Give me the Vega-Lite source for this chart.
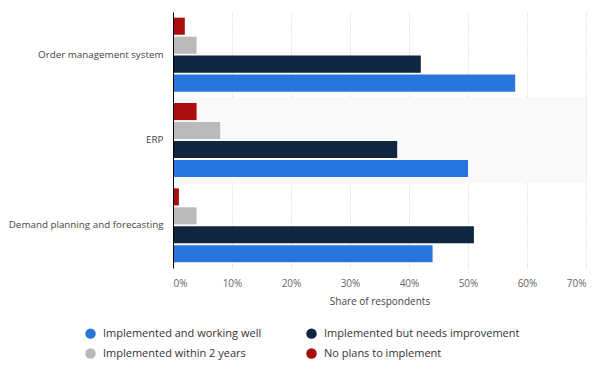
{
  "$schema": "https://vega.github.io/schema/vega-lite/v6.json",
  "width": 413,
  "height": 256,
  "autosize": {"type": "none"},
  "padding": {"left": 173, "top": 12, "right": 14, "bottom": 109},
  "background": "white",
  "config": {"view": {"stroke": null}, "font": "Open Sans"},
  "datasets": {
    "bands": [{"category": "ERP"}],
    "survey": [
      {"category": "Order management system", "status": "Implemented and working well", "share": 58},
      {"category": "Order management system", "status": "Implemented but needs improvement", "share": 42},
      {"category": "Order management system", "status": "Implemented within 2 years", "share": 4},
      {"category": "Order management system", "status": "No plans to implement", "share": 2},
      {"category": "ERP", "status": "Implemented and working well", "share": 50},
      {"category": "ERP", "status": "Implemented but needs improvement", "share": 38},
      {"category": "ERP", "status": "Implemented within 2 years", "share": 8},
      {"category": "ERP", "status": "No plans to implement", "share": 4},
      {"category": "Demand planning and forecasting", "status": "Implemented and working well", "share": 44},
      {"category": "Demand planning and forecasting", "status": "Implemented but needs improvement", "share": 51},
      {"category": "Demand planning and forecasting", "status": "Implemented within 2 years", "share": 4},
      {"category": "Demand planning and forecasting", "status": "No plans to implement", "share": 1}
    ]
  },
  "layer": [
    {
      "data": {"name": "bands"},
      "mark": {"type": "rect", "color": "#f9f9f9"},
      "encoding": {
        "y": {"field": "category", "type": "nominal", "scale": {"domain": ["Order management system", "ERP", "Demand planning and forecasting"], "paddingInner": 0, "paddingOuter": 0},
          "axis": {"title": null, "ticks": false, "domain": true, "domainColor": "#000000", "domainWidth": 1, "labelFontSize": 9.8, "labelColor": "#444444", "labelPadding": 10, "labelLimit": 200, "zindex": 1}}
      }
    },
    {
      "data": {"name": "survey"},
      "mark": {"type": "bar"},
      "encoding": {
        "y": {
          "field": "category", "type": "nominal",
          "scale": {"domain": ["Order management system", "ERP", "Demand planning and forecasting"], "paddingInner": 0, "paddingOuter": 0},
          "axis": {"title": null, "ticks": false, "domain": true, "domainColor": "#000000", "domainWidth": 1, "labelFontSize": 9.8, "labelColor": "#444444", "labelPadding": 10, "labelLimit": 200, "zindex": 1}
        },
        "yOffset": {
          "field": "status", "type": "nominal",
          "sort": ["No plans to implement", "Implemented within 2 years", "Implemented but needs improvement", "Implemented and working well"],
          "scale": {"paddingInner": 0.1, "paddingOuter": 0.3}
        },
        "x": {
          "field": "share", "type": "quantitative",
          "scale": {"domain": [0, 70], "nice": false},
          "axis": {"values": [0, 10, 20, 30, 40, 50, 60, 70], "labelExpr": "datum.value + '%'", "title": "Share of respondents", "titleFontSize": 10, "titleFontWeight": "normal", "titleColor": "#444444", "titlePadding": 8, "labelFontSize": 10, "labelColor": "#666666", "labelPadding": 10, "domain": false, "ticks": false, "grid": true, "gridColor": "#cfcfcf", "gridDash": [1, 2], "gridWidth": 1}
        },
        "color": {
          "field": "status", "type": "nominal",
          "scale": {
            "domain": ["Implemented and working well", "Implemented within 2 years", "Implemented but needs improvement", "No plans to implement"],
            "range": ["#2876dd", "#bababa", "#0f2640", "#a80e0e"]
          },
          "legend": {
            "title": null, "orient": "none", "legendX": -88, "legendY": 316, "columns": 2, "columnPadding": 44, "rowPadding": 8,
            "symbolType": "circle", "symbolSize": 110, "symbolStrokeWidth": 0, "labelFontSize": 11, "labelColor": "#333333", "labelOffset": 7, "labelLimit": 300
          }
        }
      }
    }
  ]
}
